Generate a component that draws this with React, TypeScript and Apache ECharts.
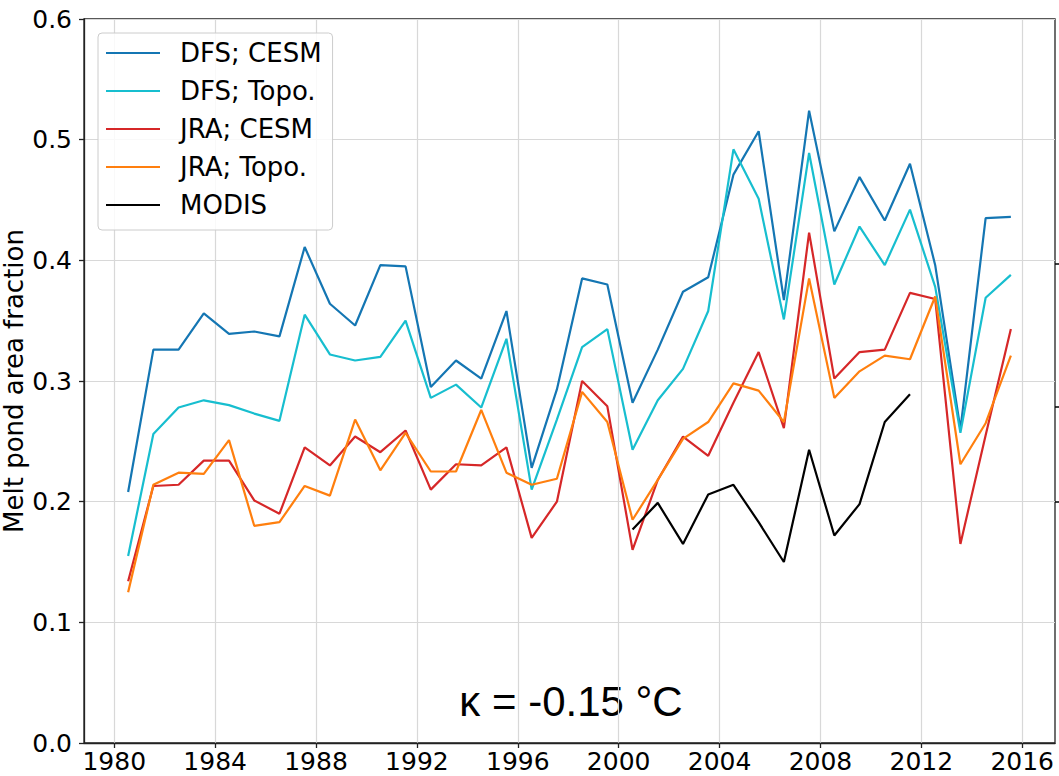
import React, { useEffect, useRef } from "react";
import * as echarts from "echarts";

const years = [
  1980, 1981, 1982, 1983, 1984, 1985, 1986, 1987, 1988, 1989, 1990, 1991,
  1992, 1993, 1994, 1995, 1996, 1997, 1998, 1999, 2000, 2001, 2002, 2003,
  2004, 2005, 2006, 2007, 2008, 2009, 2010, 2011, 2012, 2013, 2014, 2015,
];
const dfsCesm = [
  0.208, 0.326, 0.326, 0.356, 0.339, 0.341, 0.337, 0.411, 0.364, 0.346, 0.396, 0.395,
  0.295, 0.317, 0.302, 0.358, 0.228, 0.293, 0.385, 0.38, 0.282, 0.326, 0.374, 0.386,
  0.471, 0.507, 0.367, 0.524, 0.424, 0.469, 0.433, 0.48, 0.396, 0.26, 0.435, 0.436,
];
const dfsTopo = [
  0.155, 0.256, 0.278, 0.284, 0.28, 0.273, 0.267, 0.355, 0.322, 0.317, 0.32, 0.35,
  0.286, 0.297, 0.278, 0.335, 0.21, 0.268, 0.328, 0.343, 0.243, 0.284, 0.31, 0.358,
  0.492, 0.451, 0.351, 0.489, 0.38, 0.428, 0.396, 0.442, 0.378, 0.257, 0.369, 0.388,
];
const jraCesm = [
  0.134, 0.213, 0.214, 0.234, 0.234, 0.201, 0.19, 0.245, 0.23, 0.254, 0.241, 0.259,
  0.21, 0.231, 0.23, 0.245, 0.17, 0.2, 0.3, 0.279, 0.16, 0.218, 0.254, 0.238,
  0.282, 0.324, 0.261, 0.423, 0.302, 0.324, 0.326, 0.373, 0.368, 0.165, 0.255, 0.343,
];
const jraTopo = [
  0.125, 0.214, 0.224, 0.223, 0.251, 0.18, 0.183, 0.213, 0.205, 0.268, 0.226, 0.257,
  0.225, 0.225, 0.276, 0.224, 0.214, 0.219, 0.291, 0.266, 0.185, 0.218, 0.252, 0.266,
  0.298, 0.292, 0.266, 0.385, 0.286, 0.308, 0.321, 0.318, 0.37, 0.231, 0.265, 0.321,
];
const modisYears = [2000, 2001, 2002, 2003, 2004, 2005, 2006, 2007, 2008, 2009, 2010, 2011];
const modis = [0.177, 0.199, 0.165, 0.206, 0.214, 0.183, 0.15, 0.243, 0.172, 0.198, 0.266, 0.289];

const xTicks = [1980, 1984, 1988, 1992, 1996, 2000, 2004, 2008, 2012, 2016];
const seriesNames = ["DFS; CESM", "DFS; Topo.", "JRA; CESM", "JRA; Topo.", "MODIS"];
const seriesColors = ["#1476b3", "#17becf", "#d62728", "#ff7f0e", "#000000"];
const annotation = "κ = -0.15 °C";
const yAxisTitle = "Melt pond area fraction";

const MID_YEAR = 0.55;

function pairs(xs: number[], ys: number[]) {
  return xs.map((x, i) => [x + MID_YEAR, ys[i]]);
}

export default function App() {
  const ref = useRef<HTMLDivElement>(null);
  useEffect(() => {
    if (!ref.current) return;
    const chart = echarts.init(ref.current, undefined, { renderer: "svg" });
    const font = "DejaVu Sans";
    const datasets = [
      pairs(years, dfsCesm),
      pairs(years, dfsTopo),
      pairs(years, jraCesm),
      pairs(years, jraTopo),
      pairs(modisYears, modis),
    ];
    chart.setOption({
      animation: false,
      backgroundColor: "#ffffff",
      grid: {
        left: 84,
        right: 4,
        top: 19,
        bottom: 33,
        show: true,
        borderColor: "#222",
        borderWidth: 1.3,
        backgroundColor: "transparent",
      },
      xAxis: {
        type: "value",
        min: 1978.8,
        max: 2017.3,
        axisLine: { show: true, lineStyle: { color: "#222", width: 1.3 } },
        axisTick: {
          show: true,
          length: 5,
          inside: false,
          customValues: xTicks,
          lineStyle: { color: "#222", width: 1.3 },
        },
        axisLabel: {
          customValues: xTicks,
          margin: 6,
          fontFamily: font,
          fontSize: 25,
          color: "#000",
          formatter: (v: number) => String(v),
        },
        splitLine: { show: true, lineStyle: { color: "#d8d8d8", width: 1.2 } },
      },
      yAxis: {
        type: "value",
        min: 0,
        max: 0.6,
        interval: 0.1,
        axisLine: { show: true, lineStyle: { color: "#222", width: 1.3 } },
        axisTick: { show: true, length: 5, lineStyle: { color: "#222", width: 1.3 } },
        axisLabel: {
          margin: 12,
          fontFamily: font,
          fontSize: 25,
          color: "#000",
          formatter: (v: number) => v.toFixed(1),
        },
        splitLine: { show: true, lineStyle: { color: "#d8d8d8", width: 1.2 } },
      },
      legend: {
        show: true,
        orient: "vertical",
        left: 98,
        top: 33,
        padding: [7, 11, 12, 8],
        itemWidth: 54,
        itemHeight: 2.2,
        itemGap: 12,
        icon: "rect",
        backgroundColor: "rgba(255,255,255,0.85)",
        borderColor: "#cccccc",
        borderWidth: 1,
        borderRadius: 4,
        data: seriesNames,
        textStyle: {
          fontFamily: font,
          fontSize: 26,
          color: "#000",
          lineHeight: 26,
          padding: [0, 0, 0, 15],
        },
      },
      series: seriesNames.map((name, i) => ({
        name,
        type: "line",
        data: datasets[i],
        symbol: "none",
        showSymbol: false,
        lineStyle: { color: seriesColors[i], width: 2.2 },
        itemStyle: { color: seriesColors[i] },
        z: 2 + i,
      })),
      graphic: [
        {
          type: "text",
          x: 14,
          y: 381,
          rotation: Math.PI / 2,
          style: {
            text: yAxisTitle,
            fontFamily: font,
            fontSize: 26,
            lineHeight: 26,
            fill: "#000",
            align: "center",
            verticalAlign: "middle",
          },
        },
        {
          type: "text",
          x: 571,
          y: 701,
          style: {
            text: annotation,
            fontFamily: "Liberation Sans",
            fontSize: 42,
            fill: "#000",
            align: "center",
            verticalAlign: "middle",
          },
        },
        { type: "line", shape: { x1: 1055, y1: 264, x2: 1059, y2: 264 }, style: { stroke: "#000", lineWidth: 1.5 } },
        { type: "line", shape: { x1: 1055, y1: 407, x2: 1059, y2: 407 }, style: { stroke: "#000", lineWidth: 1.5 } },
        { type: "line", shape: { x1: 1055, y1: 502, x2: 1059, y2: 502 }, style: { stroke: "#000", lineWidth: 1.5 } },
      ],
    });
    return () => chart.dispose();
  }, []);
  return (
    <div
      ref={ref}
      style={{ position: "absolute", left: 0, top: 0, width: 1059, height: 776 }}
    />
  );
}
